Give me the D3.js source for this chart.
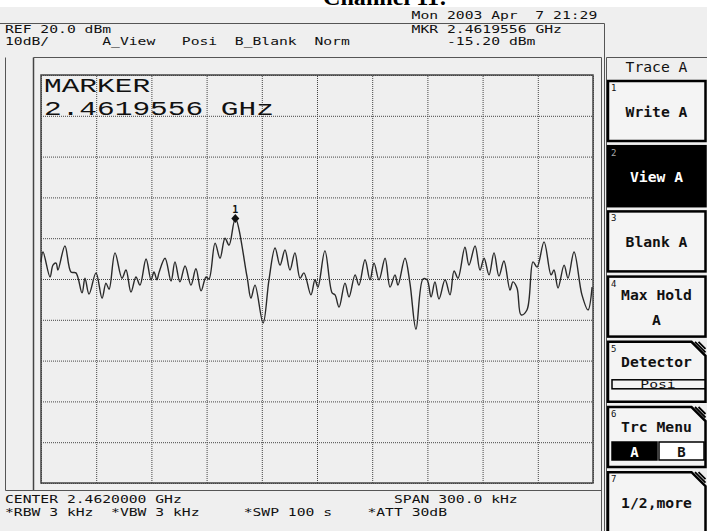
<!DOCTYPE html>
<html>
<head>
<meta charset="utf-8">
<script src="https://cdn.jsdelivr.net/npm/d3@7"></script>
<style>
html, body { margin: 0; padding: 0; background: #fff; }
svg { display: block; }
text { font-family: "DejaVu Sans Mono", monospace; white-space: pre; }
</style>
</head>
<body>
<div id="chart"></div>
<script>
// trace A, frequency offset from start (kHz, start = 2.46185 GHz) and level (dBm)
const freqKHz = [0, 1.1, 4.9, 6.5, 8.2, 9.2, 13.0, 16.3, 19.0, 22.3, 23.9, 26.1, 29.9, 33.2, 35.3, 37.0,
  40.2, 44.0, 46.2, 48.9, 51.6, 53.8, 57.1, 59.8, 61.4, 63.0, 64.1, 67.4, 70.7, 72.8, 75.5, 78.3,
  81.5, 84.2, 87.0, 89.7, 91.3, 94.6, 97.3, 100.0, 102.2, 105.6, 112.0, 114.1, 116.3, 120.7, 123.9,
  127.2, 129.9, 132.6, 135.3, 138.0, 140.8, 142.9, 146.7, 148.9, 150.5, 154.3, 158.2, 159.8, 162.0,
  165.2, 167.4, 170.7, 172.8, 176.1, 178.8, 181.0, 183.7, 187.0, 189.7, 192.4, 194.0, 197.8, 200.5,
  203.8, 207.6, 209.8, 212.0, 214.1, 216.3, 219.6, 222.3, 224.5, 226.6, 230.4, 232.6, 235.9, 238.6,
  240.8, 243.5, 246.2, 248.9, 251.6, 254.9, 256.5, 258.7, 260.9, 264.1, 267.4, 269.6, 273.4, 277.2,
  278.8, 281.0, 284.3, 286.4, 289.7, 294.0, 297.3, 299.5];
const levelDbm = [-25.8, -23.4, -29.5, -26.6, -26.1, -27.8, -21.9, -28.3, -28.5, -33.4, -29.8, -33.7, -28.5, -34.7, -31.0, -32.5,
  -23.6, -29.8, -27.8, -33.2, -29.5, -31.5, -25.1, -30.2, -28.3, -30.2, -28.5, -24.9, -30.5, -25.8, -30.7, -26.8,
  -31.5, -27.5, -32.9, -29.5, -30.0, -21.2, -24.9, -20.0, -21.7, -15.2, -29.5, -34.7, -31.5, -40.8, -30.2,
  -22.4, -26.6, -22.9, -27.8, -23.6, -29.8, -28.5, -33.9, -30.2, -32.0, -23.1, -33.4, -33.9, -36.9,
  -31.0, -34.4, -29.0, -31.5, -25.3, -30.2, -26.1, -30.2, -24.9, -32.0, -29.0, -31.5, -24.9, -31.0,
  -42.3, -30.0, -30.2, -34.4, -30.7, -34.9, -30.2, -33.9, -28.0, -29.8, -22.2, -26.6, -21.9, -27.8,
  -24.9, -29.0, -23.6, -29.3, -25.6, -32.7, -30.7, -32.2, -38.8, -37.6, -25.8, -27.1, -20.9, -29.0,
  -27.8, -32.2, -26.6, -29.8, -23.4, -33.9, -37.6, -32.0];

const markerFreq = 105.6;
const markerLevel = -15.2;

const xTicks = d3.range(0, 301, 30);      // 10 divisions over 300 kHz span
const yTicks = d3.range(-80, 21, 10);     // REF 20 dBm, 10 dB/div

const softkeyLabels = [["Write A"], ["View A"], ["Blank A"], ["Max Hold", "A"], ["Detector"], ["Trc Menu"], ["1/2,more"]];

const W = 707, H = 531;
const CW = 8.84; // bitmap character cell width

const svg = d3.select("#chart").append("svg")
  .attr("width", W).attr("height", H);

// background
svg.append("rect").attr("width", W).attr("height", H).attr("fill", "#fff");
svg.append("rect").attr("y", 7).attr("width", W).attr("height", H - 7).attr("fill", "#efefef");

// cut-off title at the top
svg.append("text")
  .attr("x", 323).attr("y", 5)
  .attr("textLength", 124).attr("lengthAdjust", "spacingAndGlyphs")
  .style("font-family", "'Liberation Serif', serif")
  .style("font-weight", "bold").style("font-size", "24px")
  .attr("fill", "#000")
  .text("Channel 11:");

function mono(str, x, y, size, opts = {}) {
  return svg.append("text")
    .attr("x", x).attr("y", y)
    .attr("textLength", str.length * CW).attr("lengthAdjust", "spacingAndGlyphs")
    .style("font-size", size + "px")
    .style("font-weight", opts.bold ? "bold" : "normal")
    .attr("fill", opts.fill || "#111")
    .text(str);
}
const col = c => 5 + c * CW;

// frame lines
const lineColor = "#555";
function ln(x1, y1, x2, y2, w = 1, c = lineColor) {
  svg.append("line").attr("x1", x1).attr("y1", y1).attr("x2", x2).attr("y2", y2)
    .attr("stroke", c).attr("stroke-width", w);
}
ln(0, 23.5, 604.5, 23.5);
ln(604.5, 23.5, 604.5, H);
ln(601.5, 57.5, 601.5, H);
ln(33.5, 57.5, 601.5, 57.5);
ln(33.5, 57.5, 33.5, 490.5, 1.5, "#444");
ln(5.5, 57.5, 5.5, 490.5);
ln(5.5, 490.5, 601.5, 490.5);

// header text
mono("Mon 2003 Apr  7 21:29", col(46), 19, 10.5);
mono("REF 20.0 dBm", col(0), 32.5, 10.5);
mono("MKR 2.4619556 GHz", col(46), 32.5, 10.5);
mono("10dB/", col(0), 44.5, 10.5);
mono("A_View", col(11), 44.5, 10.5);
mono("Posi", col(20), 44.5, 10.5);
mono("B_Blank", col(26), 44.5, 10.5);
mono("Norm", col(35), 44.5, 10.5);
mono("-15.20 dBm", col(50), 44.5, 10.5);

// footer text
mono("CENTER 2.4620000 GHz", col(0), 503, 10.5);
mono("SPAN 300.0 kHz", col(44), 503, 10.5);
mono("*RBW 3 kHz", col(0), 516, 10.5);
mono("*VBW 3 kHz", col(12), 516, 10.5);
mono("*SWP 100 s", col(27), 516, 10.5);
mono("*ATT 30dB", col(41), 516, 10.5);

// plot scales
const x = d3.scaleLinear().domain([0, 300]).range([41, 593]);
const y = d3.scaleLinear().domain([-80, 20]).range([483, 75]);

// grid via axes
const gx = svg.append("g").attr("transform", "translate(0,483)")
  .call(d3.axisBottom(x).tickValues(xTicks).tickSize(-408).tickFormat(""));
const gy = svg.append("g").attr("transform", "translate(41,0)")
  .call(d3.axisLeft(y).tickValues(yTicks).tickSize(-552).tickFormat(""));
[gx, gy].forEach(g => {
  g.select(".domain").remove();
  g.selectAll(".tick line").attr("stroke", "#444").attr("stroke-width", 1)
    .attr("stroke-dasharray", "1,1");
});

svg.append("rect")
  .attr("x", x(0)).attr("y", y(20))
  .attr("width", x(300) - x(0)).attr("height", y(-80) - y(20))
  .attr("fill", "none").attr("stroke", "#444").attr("stroke-width", 1.5);

// marker readout
svg.append("text").attr("x", 44).attr("y", 92)
  .attr("textLength", 6 * 17.68).attr("lengthAdjust", "spacingAndGlyphs")
  .style("font-family", "'Liberation Mono', monospace").style("font-size", "20px")
  .attr("fill", "#111").text("MARKER");
svg.append("text").attr("x", 44).attr("y", 115)
  .attr("textLength", 13 * 17.68).attr("lengthAdjust", "spacingAndGlyphs")
  .style("font-family", "'Liberation Mono', monospace").style("font-size", "20px")
  .attr("fill", "#111").text("2.4619556 GHz");

// trace
const trace = freqKHz.map((f, i) => [f, levelDbm[i]]);
const line = d3.line()
  .x(d => x(d[0]))
  .y(d => y(d[1]))
  .curve(d3.curveCatmullRom.alpha(0.5));
svg.append("path")
  .datum(trace)
  .attr("fill", "none")
  .attr("stroke", "#2a2a2a")
  .attr("stroke-width", 1.4)
  .attr("d", line);

// marker
const mx = x(markerFreq), my = y(markerLevel);
svg.append("path")
  .attr("d", `M${mx},${my - 4.5}L${mx + 4},${my}L${mx},${my + 4.5}L${mx - 4},${my}Z`)
  .attr("fill", "#111");
svg.append("text").attr("x", mx).attr("y", my - 6)
  .attr("text-anchor", "middle")
  .style("font-size", "10px").style("font-weight", "bold")
  .attr("fill", "#111").text("1");

// softkey panel
ln(606.5, 57.5, 606.5, H);
ln(606.5, 57.5, W, 57.5);
const kc = 656.5;
function centered(str, yy, size, opts = {}) {
  return mono(str, kc - str.length * CW / 2, yy, size, opts);
}
centered("Trace A", 72, 14);

const kx0 = 608, kx1 = 705.5;
softkeyLabels.forEach((lines, i) => {
  const top = 81 + i * 65.2;
  const bot = top + 60;
  const cut = i >= 4;
  const g = svg.append("g");
  if (!cut) {
    g.append("rect").attr("x", kx0).attr("y", top).attr("width", kx1 - kx0).attr("height", bot - top)
      .attr("fill", i === 1 ? "#000" : "#f4f4f4").attr("stroke", "#000").attr("stroke-width", 2.5);
  } else {
    g.append("path")
      .attr("d", `M${kx0},${bot}L${kx0},${top}L${kx1 - 14},${top}L${kx1},${top + 14}L${kx1},${bot}Z`)
      .attr("fill", "#f4f4f4").attr("stroke", "#000").attr("stroke-width", 2.5);
    [3.5, 7].forEach(o => {
      g.append("line").attr("x1", kx1 - 14 + o).attr("y1", top).attr("x2", kx1).attr("y2", top + 14 - o)
        .attr("stroke", "#000").attr("stroke-width", 1.8);
    });
  }
  svg.append("text").attr("x", 611).attr("y", top + 10)
    .style("font-size", "9px")
    .attr("fill", i === 1 ? "#aaa" : "#111").text(i + 1);

  const bold = true;
  const fill = i === 1 ? "#fff" : "#111";
  if (lines.length === 2) {
    centered(lines[0], top + 23, 14, { bold, fill });
    centered(lines[1], top + 48, 14, { bold, fill });
  } else if (i === 4 || i === 5) {
    centered(lines[0], top + 25, 14, { bold, fill });
  } else {
    centered(lines[0], top + 36, 14, { bold, fill });
  }

  if (i === 4) {
    svg.append("rect").attr("x", 612).attr("y", top + 38).attr("width", 93).attr("height", 9)
      .attr("fill", "#f4f4f4").attr("stroke", "#000").attr("stroke-width", 1.5);
    svg.append("text").attr("x", 658).attr("y", top + 46.5).attr("text-anchor", "middle")
      .attr("textLength", 4 * CW).attr("lengthAdjust", "spacingAndGlyphs")
      .style("font-size", "10px").attr("fill", "#111").text("Posi");
  }
  if (i === 5) {
    svg.append("rect").attr("x", 612).attr("y", top + 35).attr("width", 45).attr("height", 18)
      .attr("fill", "#000").attr("stroke", "#000").attr("stroke-width", 1.5);
    svg.append("rect").attr("x", 659).attr("y", top + 35).attr("width", 45).attr("height", 18)
      .attr("fill", "#fff").attr("stroke", "#000").attr("stroke-width", 1.5);
    svg.append("text").attr("x", 634.5).attr("y", top + 49.5).attr("text-anchor", "middle")
      .style("font-size", "14px").style("font-weight", "bold").attr("fill", "#fff").text("A");
    svg.append("text").attr("x", 681.5).attr("y", top + 49.5).attr("text-anchor", "middle")
      .style("font-size", "14px").style("font-weight", "bold").attr("fill", "#111").text("B");
  }
});
</script>
</body>
</html>
